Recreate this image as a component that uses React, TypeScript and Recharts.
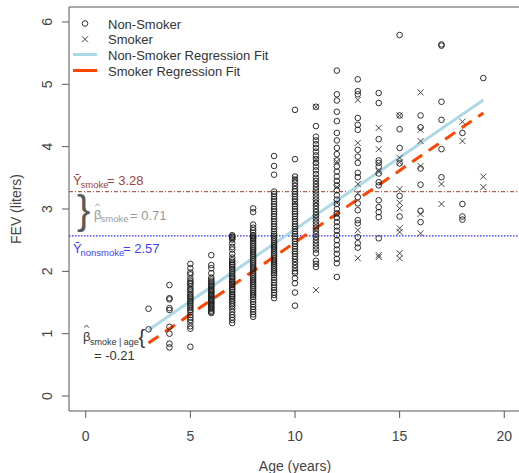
import {
  ScatterChart,
  Scatter,
  XAxis,
  YAxis,
  ReferenceLine,
  ReferenceArea,
} from 'recharts'

// ─── data ───────────────────────────────────────────────────────────────────
const ages = [3, 4, 5, 6, 7, 8, 9, 10, 11, 12, 13, 14, 15, 16, 17, 18, 19]

// FEV (liters) per age, non-smokers
const nonSmokerFev: number[][] = [
  [1.4, 1.07],
  [1.78, 1.57, 1.55, 1.41, 1.38, 1.11, 1.0, 0.84, 0.78],
  [2.12, 2.05, 1.98, 1.95, 1.89, 1.85, 1.82, 1.8, 1.76, 1.72, 1.7, 1.66, 1.63, 1.6, 1.58, 1.55, 1.52, 1.5, 1.47, 1.44, 1.41, 1.38, 1.35, 1.3, 1.26, 1.22, 1.18, 1.12, 1.08, 0.79],
  [2.26, 2.1, 2.05, 1.97, 1.9, 1.87, 1.84, 1.82, 1.79, 1.77, 1.75, 1.72, 1.7, 1.68, 1.66, 1.64, 1.62, 1.6, 1.58, 1.56, 1.54, 1.52, 1.5, 1.48, 1.46, 1.44, 1.42, 1.4, 1.37, 1.35, 1.33],
  [2.58, 2.56, 2.55, 2.53, 2.51, 2.45, 2.39, 2.35, 2.28, 2.22, 2.18, 2.15, 2.12, 2.1, 2.07, 2.04, 2.01, 1.98, 1.95, 1.92, 1.9, 1.88, 1.85, 1.83, 1.8, 1.78, 1.75, 1.72, 1.7, 1.67, 1.64, 1.61, 1.59, 1.56, 1.53, 1.5, 1.47, 1.44, 1.4, 1.35, 1.3, 1.26, 1.22, 1.17],
  [3.01, 2.95, 2.75, 2.7, 2.66, 2.62, 2.58, 2.56, 2.54, 2.52, 2.49, 2.46, 2.43, 2.4, 2.37, 2.34, 2.31, 2.28, 2.25, 2.22, 2.19, 2.16, 2.13, 2.1, 2.07, 2.04, 2.01, 1.98, 1.95, 1.92, 1.89, 1.86, 1.83, 1.8, 1.77, 1.74, 1.71, 1.68, 1.65, 1.62, 1.59, 1.55, 1.51, 1.47, 1.43, 1.39, 1.35, 1.31, 1.27],
  [3.85, 3.69, 3.55, 3.28, 3.24, 3.2, 3.16, 3.12, 3.08, 3.04, 3.0, 2.96, 2.92, 2.88, 2.84, 2.8, 2.76, 2.72, 2.68, 2.64, 2.6, 2.57, 2.54, 2.51, 2.48, 2.45, 2.42, 2.39, 2.36, 2.33, 2.3, 2.27, 2.24, 2.21, 2.18, 2.15, 2.12, 2.09, 2.06, 2.03, 2.0, 1.97, 1.94, 1.9, 1.86, 1.82, 1.78, 1.74, 1.7, 1.66, 1.62, 1.57],
  [4.59, 3.8, 3.52, 3.47, 3.42, 3.37, 3.32, 3.28, 3.24, 3.2, 3.16, 3.12, 3.08, 3.04, 3.0, 2.96, 2.92, 2.88, 2.84, 2.8, 2.76, 2.72, 2.68, 2.64, 2.6, 2.56, 2.52, 2.48, 2.44, 2.4, 2.36, 2.32, 2.28, 2.24, 2.2, 2.15, 2.1, 2.05, 2.0, 1.97, 1.89, 1.81, 1.66, 1.45],
  [4.64, 4.33, 4.16, 4.1, 4.04, 3.98, 3.92, 3.86, 3.8, 3.74, 3.68, 3.62, 3.56, 3.5, 3.45, 3.4, 3.35, 3.3, 3.25, 3.2, 3.15, 3.1, 3.05, 3.0, 2.95, 2.9, 2.85, 2.8, 2.75, 2.7, 2.65, 2.6, 2.55, 2.5, 2.45, 2.4, 2.35, 2.29, 2.17, 2.12, 2.07],
  [5.22, 4.84, 4.74, 4.56, 4.41, 4.22, 4.1, 3.98, 3.88, 3.78, 3.68, 3.6, 3.52, 3.45, 3.38, 3.3, 3.22, 3.15, 3.08, 3.0, 2.93, 2.86, 2.79, 2.72, 2.65, 2.58, 2.5, 2.42, 2.35, 2.28, 2.2, 2.13, 1.91],
  [5.08, 4.89, 4.84, 4.46, 4.35, 4.27, 3.95, 3.84, 3.74, 3.58, 3.51, 3.19, 3.09, 2.98, 2.82, 2.77, 2.55, 2.45, 2.38],
  [4.86, 4.7, 4.12, 3.78, 3.74, 3.68, 3.57, 3.43, 3.38, 3.14, 3.03, 2.95, 2.87, 2.53],
  [5.79, 4.5, 4.28, 3.98, 3.73, 3.21, 2.88],
  [4.5, 4.31, 3.65, 3.39, 2.97, 2.79],
  [5.64, 5.62, 4.72, 4.43, 3.96, 3.51],
  [4.22, 3.08, 2.88, 2.83],
  [5.1],
]

// FEV (liters) per age, smokers
const smokerFev: number[][] = [
  [], [], [], [], [], [], [],
  [3.5, 3.1],
  [4.64, 3.78, 3.1, 2.85, 1.7],
  [3.76, 3.35, 3.1, 2.9],
  [4.75, 4.06, 3.4, 3.25, 2.66, 2.21],
  [4.3, 3.96, 3.6, 2.26, 2.23],
  [4.5, 3.82, 3.75, 3.32, 3.1, 3.01, 2.69, 2.63, 2.29, 2.21],
  [4.87, 4.27, 4.09, 3.69, 2.92, 2.61],
  [3.4, 3.08],
  [4.4, 4.09],
  [3.52, 3.35],
]

// fitted lines (age 3 → 19) and group means
const fitAges = [3, 19]
const nonSmokerFit = [1.06, 4.75]
const smokerFit = [0.85, 4.54]
const meanSmoke = 3.28
const meanNonSmoke = 2.57

const xTicks = [0, 5, 10, 15, 20]
const yTicks = [0, 1, 2, 3, 4, 5, 6]

const nonSmokerPts = ages.flatMap((a, i) => nonSmokerFev[i].map((v) => ({ age: a, fev: v })))
const smokerPts = ages.flatMap((a, i) => smokerFev[i].map((v) => ({ age: a, fev: v })))

const FONT = '"Liberation Sans", Arial, "DejaVu Sans", sans-serif'
const AXIS = '#555'

// ─── shapes ─────────────────────────────────────────────────────────────────
const Ring = (p: any) => (
  <circle cx={p.cx} cy={p.cy} r={2.8} fill="none" stroke="#1a1a1a" strokeWidth={0.9} />
)

const Cross = (p: any) => {
  const s = 3
  return (
    <g stroke="#333" strokeWidth={0.9}>
      <line x1={p.cx - s} y1={p.cy - s} x2={p.cx + s} y2={p.cy + s} />
      <line x1={p.cx - s} y1={p.cy + s} x2={p.cx + s} y2={p.cy - s} />
    </g>
  )
}

// small circumflex drawn over a β
const Hat = ({ x, y, color }: { x: number; y: number; color: string }) => (
  <polyline
    points={`${x - 2.2},${y + 1.6} ${x},${y - 1} ${x + 2.2},${y + 1.6}`}
    fill="none"
    stroke={color}
    strokeWidth={0.9}
  />
)

const XTick = ({ x, y, payload }: any) => (
  <text x={x} y={y} dy="0.71em" textAnchor="middle" fontSize={14} fill="#444" fontFamily={FONT}>
    {payload.value}
  </text>
)

const YTick = ({ x, y, payload }: any) => (
  <text
    x={x}
    y={y}
    dy="0.35em"
    textAnchor="middle"
    fontSize={14}
    fill="#444"
    fontFamily={FONT}
    transform={`rotate(-90, ${x}, ${y})`}
  >
    {payload.value}
  </text>
)

// ─── annotations (legend, labels) ───────────────────────────────────────────
function Overlay() {
  const t = { fontFamily: FONT }
  return (
    <svg
      width={519}
      height={473}
      style={{ position: 'absolute', left: 0, top: 0, pointerEvents: 'none' }}
    >
      {/* legend */}
      <circle cx={85} cy={23.5} r={2.8} fill="none" stroke="#1a1a1a" strokeWidth={0.9} />
      <g stroke="#333" strokeWidth={0.9}>
        <line x1={82} y1={36.3} x2={88} y2={42.3} />
        <line x1={82} y1={42.3} x2={88} y2={36.3} />
      </g>
      <line x1={73} y1={54.5} x2={97} y2={54.5} stroke="#ADD8E6" strokeWidth={3} />
      <line x1={73} y1={70.5} x2={97} y2={70.5} stroke="#FF4500" strokeWidth={3} />
      <g {...t} fontSize={13} fill="#333">
        <text x={108} y={28.5}>Non-Smoker</text>
        <text x={108} y={44}>Smoker</text>
        <text x={108} y={59.5}>Non-Smoker Regression Fit</text>
        <text x={108} y={75.5}>Smoker Regression Fit</text>
      </g>

      {/* mean of smokers */}
      <g {...t} fill="#A0443A">
        <text x={73} y={185} fontSize={13}>Ȳ</text>
        <text x={80.5} y={188} fontSize={9.5}>smoke</text>
        <text x={107} y={185} fontSize={13}>= 3.28</text>
      </g>

      {/* difference of means */}
      <text x={77} y={224} fontSize={40} fill="#5a5a5a" {...t}>{'}'}</text>
      <Hat x={97.5} y={204.5} color="#999" />
      <g {...t} fill="#999">
        <text x={94} y={219} fontSize={13}>β</text>
        <text x={100.5} y={222} fontSize={9.5}>smoke</text>
        <text x={130} y={220} fontSize={13}>= 0.71</text>
      </g>

      {/* mean of non-smokers */}
      <g {...t} fill="#3f3fff">
        <text x={73} y={253} fontSize={13}>Ȳ</text>
        <text x={80.5} y={256} fontSize={9.5}>nonsmoke</text>
        <text x={123} y={253} fontSize={13}>= 2.57</text>
      </g>

      {/* adjusted effect */}
      <Hat x={86.5} y={326} color="#333" />
      <g {...t} fill="#333">
        <text x={83} y={341} fontSize={13}>β</text>
        <text x={90} y={345} fontSize={9}>smoke | age</text>
        <text x={138.5} y={344} fontSize={20}>{'{'}</text>
        <text x={94} y={360} fontSize={13}>= -0.21</text>
      </g>

      {/* axis titles */}
      <text x={295} y={471} textAnchor="middle" fontSize={14} fill="#444" {...t}>
        Age (years)
      </text>
      <text
        x={16}
        y={209}
        dy="0.35em"
        textAnchor="middle"
        fontSize={14}
        fill="#444"
        transform="rotate(-90, 16, 209)"
        {...t}
      >
        FEV (liters)
      </text>
    </svg>
  )
}

export default function App() {
  return (
    <div
      style={{
        position: 'absolute',
        left: 0,
        top: 0,
        width: 519,
        height: 473,
        overflow: 'hidden',
        background: '#fff',
      }}
    >
      <ScatterChart width={522} height={473} margin={{ top: 7, right: 1, bottom: 0, left: 0 }}>
        <XAxis
          type="number"
          dataKey="age"
          domain={[-0.8, 20.8]}
          allowDataOverflow
          ticks={xTicks}
          height={62}
          axisLine={false}
          tickLine={{ stroke: AXIS }}
          tickSize={7}
          tickMargin={13}
          tick={<XTick />}
        />
        <YAxis
          type="number"
          dataKey="fev"
          domain={[-0.24, 6.24]}
          allowDataOverflow
          ticks={yTicks}
          width={69}
          axisLine={false}
          tickLine={{ stroke: AXIS }}
          tickSize={7}
          tickMargin={15}
          tick={<YTick />}
        />
        <ReferenceArea
          x1={-0.8}
          x2={20.8}
          y1={-0.24}
          y2={6.24}
          fill="none"
          stroke={AXIS}
          strokeWidth={1}
          ifOverflow="visible"
        />
        <Scatter data={nonSmokerPts} shape={Ring} isAnimationActive={false} />
        <Scatter data={smokerPts} shape={Cross} isAnimationActive={false} />
        <ReferenceLine y={meanSmoke} stroke="#B0604F" strokeWidth={1.2} strokeDasharray="4 2 1 2" />
        <ReferenceLine y={meanNonSmoke} stroke="#3030FF" strokeWidth={1.2} strokeDasharray="1.5 1.5" />
        <ReferenceLine
          segment={[
            { x: fitAges[0], y: nonSmokerFit[0] },
            { x: fitAges[1], y: nonSmokerFit[1] },
          ]}
          stroke="#ADD8E6"
          strokeWidth={3}
        />
        <ReferenceLine
          segment={[
            { x: fitAges[0], y: smokerFit[0] },
            { x: fitAges[1], y: smokerFit[1] },
          ]}
          stroke="#FF4500"
          strokeWidth={3}
          strokeDasharray="12 8"
        />
      </ScatterChart>
      <Overlay />
    </div>
  )
}
